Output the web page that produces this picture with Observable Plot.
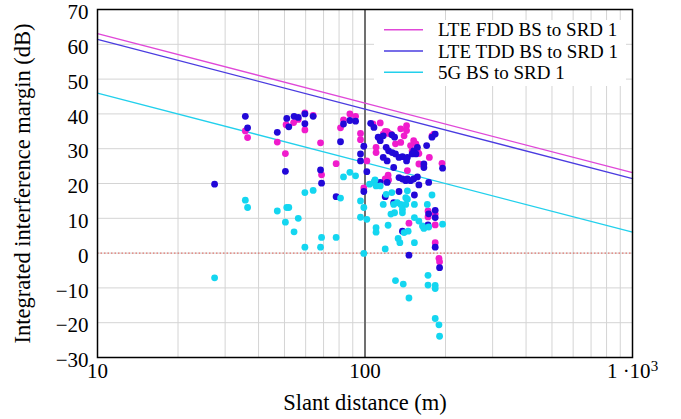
<!DOCTYPE html>
<html><head><meta charset="utf-8">
<script src="https://cdn.jsdelivr.net/npm/d3@7"></script>
<script src="https://cdn.jsdelivr.net/npm/@observablehq/plot@0.6"></script>
<style>
body{margin:0;background:#fff;}
#wrap{position:relative;width:681px;height:419px;}
#wrap svg text{font-family:"Liberation Serif","Times New Roman",serif !important;font-variant-numeric:normal !important;}
#legend{position:absolute;left:374px;top:20px;width:252px;height:66px;background:#fff;}
</style>
</head><body>
<div id="wrap"></div>
<script>
// ---- data ----
const seriesNames = ["LTE FDD BS to SRD 1", "LTE TDD BS to SRD 1", "5G BS to SRD 1"];
const lineColors = ["#e048d8", "#4a3ce0", "#22d0ec"];
const dotColors = ["#f01ccc", "#2208d8", "#14d6f0"];

const lineDist = [10, 100, 1000];
const fddLine = [63.1, 43.1, 23.1];
const tddLine = [61.4, 41.4, 21.4];
const ngLine = [46.0, 26.0, 6.0];

const fddPoints = [[35.7,35.1],[36.4,33.2],[47.0,31.9],[50.7,36.9],[54.1,37.5],[56.3,38.4],[59.6,40.3],[64.0,39.6],[59.6,35.4],[50.4,28.6],[68.2,31.7],[68.8,22.5],[78.0,25.7],[83.1,38.3],[81.0,36.0],[87.8,40.0],[92.2,39.3],[96.2,34.4],[96.2,32.6],[101.6,26.5],[99.0,18.7],
[107,37.1],[114,37.4],[110,30.4],[110,28.9],[119,35.0],[122.5,34.4],[117,34.2],[121,34.9],[125,34.2],[136,35.7],[140,33.7],[130,31.4],[136,31.8],[143,36.6],[143,35.2],[152,32.3],[155,31.4],[157,29.4],[159,28.6],[174,27.5],[178,33.7],[159,25.6],[194,25.8],[144,23.7],[122.5,21.0],[122,22.4],[119,21.3],[172,12.1],[172,10.4],[183,11.2],[146,8.6],[183,8.1],[183,3.0],[189,-1.5],[190,-2.5],[148,30.9],[150,29.4],[181,34.2]];

const tddPoints = [[35.7,39.3],[36.4,36.0],[47.0,34.7],[51.0,38.7],[51.9,36.3],[54.3,39.3],[56.3,39.0],[59.6,40.0],[59.6,37.2],[64.0,39.3],[50.4,23.5],[68.2,23.9],[68.8,20.1],[27.4,19.8],[78.0,16.2],[81.0,32.0],[83.1,37.1],[87.8,38.1],[92.2,37.9],[99.0,30.7],[96.2,28.5],[96.2,26.5],[101.6,23.4],[99.0,17.7],
[105,37.3],[108,36.1],[112,33.3],[114,32.3],[117,33.7],[126,34.0],[129,33.3],[120,30.4],[122.5,29.4],[126.4,28.9],[130,28.5],[134,27.5],[138,27.7],[117,27.5],[121,26.5],[128,24.6],[109,20.8],[114,20.3],[121,20.3],[138,21.3],[142,20.8],[148,20.8],[152,21.3],[157,21.9],[159,19.6],[173,20.3],[134,21.7],[134,17.7],[153,16.7],[119,16.2],[128,14.5],[138,6.3],[146,-0.6],[170,30.9],[178,33.3],[195,24.4],[152,29.4],[155,28.5],[166,25.6],[166,24.6],[143,26.5],[144,21.3],[173,11.3],[183,12.3],[183,10.2],[183,1.7],[190,-4.2],[172,8.1],[183,34.2],[157,30.4],[144,27.5],[150,28.5]];

const ngPoints = [[35.7,15.2],[36.4,13.1],[27.4,-7.1],[47.0,12.1],[51.0,13.1],[51.9,13.1],[50.4,8.9],[56.3,10.0],[54.3,6.1],[59.6,17.4],[64.0,18.0],[59.6,1.7],[68.2,1.7],[68.8,4.5],[78.0,4.5],[83.1,21.9],[87.8,23.2],[92.2,22.2],[81.0,15.8],[96.2,15.0],[99.0,13.1],[96.2,10.3],[101.6,9.7],[99.0,-0.1],
[104,19.8],[108,20.3],[110,19.3],[114,19.3],[109,21.0],[117,14.0],[120,16.9],[126,17.4],[128,14.0],[132,14.5],[136,14.0],[138,12.6],[138,11.6],[142,15.9],[142,14.0],[125,11.2],[129,11.6],[153,14.0],[171,14.0],[153,10.2],[159,9.2],[164,7.8],[166,7.1],[173,7.5],[178,16.7],[195,8.3],[122,8.0],[145,6.3],[140,5.9],[110,7.3],[110,6.0],[133,4.2],[135,3.0],[153,3.0],[119,1.2],[130,-7.9],[139,-8.9],[146,-12.9],[172,-6.4],[172,-9.2],[183,-9.3],[183,-10.2],[183,-18.8],[189,-20.6],[190,-23.9],[144,17.9],[144,15.5]];

const xTicks = [10, 100, 1000];
const xTickLabels = ["10", "100", "1 \u00b710\u00b3"];
const xGrid = [20,30,40,50,60,70,80,90,200,300,400,500,600,700,800,900];
const yTicks = [-30,-20,-10,0,10,20,30,40,50,60,70];
const xTitle = "Slant distance (m)";
const yTitle = "Integrated interference margin (dB)";

// ---- build tables ----
const lineVals = [fddLine, tddLine, ngLine];
const lineRows = [];
lineVals.forEach((vals, s) => lineDist.forEach((d, i) => lineRows.push({s, x: d, y: vals[i]})));
const pointSets = [fddPoints, tddPoints, ngPoints];
const pointRows = [];
pointSets.forEach((pts, s) => pts.forEach(([x, y]) => pointRows.push({s, x, y})));

const font = "Liberation Serif, Times New Roman, serif";

const chart = Plot.plot({
  width: 681, height: 419,
  marginLeft: 97, marginRight: 49, marginTop: 9, marginBottom: 62,
  style: {fontFamily: font, fontSize: "21px", color: "#000", background: "#fff", overflow: "visible"},
  x: {type: "log", domain: [10, 1000]},
  y: {domain: [-30, 70]},
  marks: [
    Plot.ruleX(xGrid, {stroke: "#d4d4d4", strokeWidth: 1}),
    Plot.ruleY(yTicks, {stroke: "#d4d4d4", strokeWidth: 1}),
    Plot.ruleY([0], {stroke: "#e05a50", strokeWidth: 1, strokeDasharray: "1.5,2"}),
    Plot.ruleX([100], {stroke: "#707070", strokeWidth: 2}),
    Plot.line(lineRows, {x: "x", y: "y", z: "s", stroke: d => lineColors[d.s], strokeWidth: 1.3}),
    Plot.dot(pointRows, {x: "x", y: "y", r: 3.4, fill: d => dotColors[d.s], stroke: "none"}),
    Plot.frame({stroke: "#000", strokeWidth: 1.5}),
    Plot.axisX(xTicks, {tickSize: 0, tickPadding: 6, fontSize: 21, fontFamily: font, tickFormat: d => xTickLabels[xTicks.indexOf(d)], label: null}),
    Plot.axisX([], {tickSize: 0, fontSize: 22.5, fontFamily: font, label: xTitle, labelAnchor: "center", labelArrow: "none", labelOffset: 52}),
    Plot.axisY(yTicks, {tickSize: 0, tickPadding: 9, dy: 3, fontSize: 21, fontFamily: font, label: null}),
    Plot.axisY([], {tickSize: 0, fontSize: 22.5, fontFamily: font, label: yTitle, labelAnchor: "center", labelArrow: "none", labelOffset: 83})
  ]
});

// render the exponent of "1·10³" as a raised superscript like the reference
chart.querySelectorAll("text, tspan").forEach(t => {
  if (t.children.length === 0 && t.textContent === xTickLabels[2]) {
    const ns0 = "http://www.w3.org/2000/svg";
    t.textContent = "1 \u00b710";
    const sup = document.createElementNS(ns0, "tspan");
    sup.setAttribute("dy", "-0.5em");
    sup.setAttribute("font-size", "15");
    sup.textContent = "3";
    t.appendChild(sup);
  }
});

const wrap = document.getElementById("wrap");
wrap.appendChild(chart);

// legend (inside plot area, top right)
const ns = "http://www.w3.org/2000/svg";
const leg = document.createElement("div");
leg.id = "legend";
const lsvg = document.createElementNS(ns, "svg");
lsvg.setAttribute("width", 252); lsvg.setAttribute("height", 66);
seriesNames.forEach((name, i) => {
  const cy = 9.7 + i * 21.3;
  const ln = document.createElementNS(ns, "line");
  ln.setAttribute("x1", 10); ln.setAttribute("x2", 49);
  ln.setAttribute("y1", cy); ln.setAttribute("y2", cy);
  ln.setAttribute("stroke", lineColors[i]); ln.setAttribute("stroke-width", 1.6);
  lsvg.appendChild(ln);
  const tx = document.createElementNS(ns, "text");
  tx.setAttribute("x", 64); tx.setAttribute("y", cy);
  tx.setAttribute("dy", "0.35em");
  tx.setAttribute("font-family", font);
  tx.setAttribute("font-size", 19);
  tx.textContent = name;
  lsvg.appendChild(tx);
});
leg.appendChild(lsvg);
wrap.appendChild(leg);
</script>
</body></html>
